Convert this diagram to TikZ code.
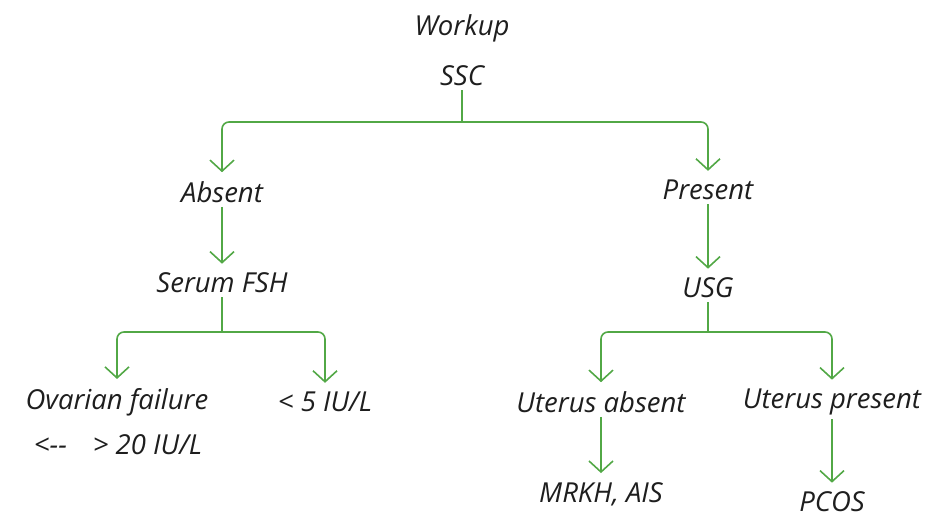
\documentclass[tikz,border=0pt]{standalone}
\usepackage{fontspec}
\setmainfont{Open Sans}
\usepackage{tikz}
\usetikzlibrary{arrows.meta,positioning}
\definecolor{linkgreen}{RGB}{82,168,70}
\definecolor{inkgray}{RGB}{30,30,30}

\begin{document}
\begin{tikzpicture}[
  x=1pt, y=-1pt,
  label/.style={text=inkgray, font=\fontsize{27.5}{32}\selectfont\itshape, inner sep=4pt},
  link/.style={draw=linkgreen, line width=1.6pt, rounded corners=7pt},
  arrow/.style={link, shorten >=5pt, -{Straight Barb[length=11pt,width=24pt,line width=1.6pt]}}
]
\useasboundingbox (0,0) rectangle (930,519);

\node[label] (workup) at (462,28) {Workup};
\node[label] (ssc) at (462,76) {SSC};
\node[label] (absent) at (222,192) {Absent};
\node[label] (present) at (708,190) {Present};
\node[label] (fsh) at (222,283) {Serum FSH};
\node[label] (usg) at (708,288) {USG};
\node[label] (ovfail) at (117,402) {Ovarian failure};
\node[label] (low) at (325,402) {< 5 IU/L};
\node[label] (high) at (118,445) {<-{}-\hspace{26pt}> 20 IU/L};
\node[label] (utabs) at (601,402) {Uterus absent};
\node[label] (utpres) at (832,402) {Uterus present};
\node[label] (mrkh) at (601,494) {MRKH, AIS};
\node[label] (pcos) at (832,502) {PCOS};

% fork points
\coordinate (j1) at (462,122);
\coordinate (j2) at (222,332);
\coordinate (j3) at (708,332);

\draw[link] (ssc) -- (j1);
\draw[arrow] (j1) -| (absent);
\draw[arrow] (j1) -| (present);
\draw[arrow] (absent) -- (fsh);
\draw[arrow] (present) -- (usg);

\draw[link] (fsh) -- (j2);
\draw[arrow] (j2) -| (ovfail);
\draw[arrow] (j2) -| (low);

\draw[link] (usg) -- (j3);
\draw[arrow] (j3) -| (utabs);
\draw[arrow] (j3) -| (utpres);

\draw[arrow] (utabs) -- (mrkh);
\draw[arrow] (utpres) -- (pcos);
\end{tikzpicture}
\end{document}
